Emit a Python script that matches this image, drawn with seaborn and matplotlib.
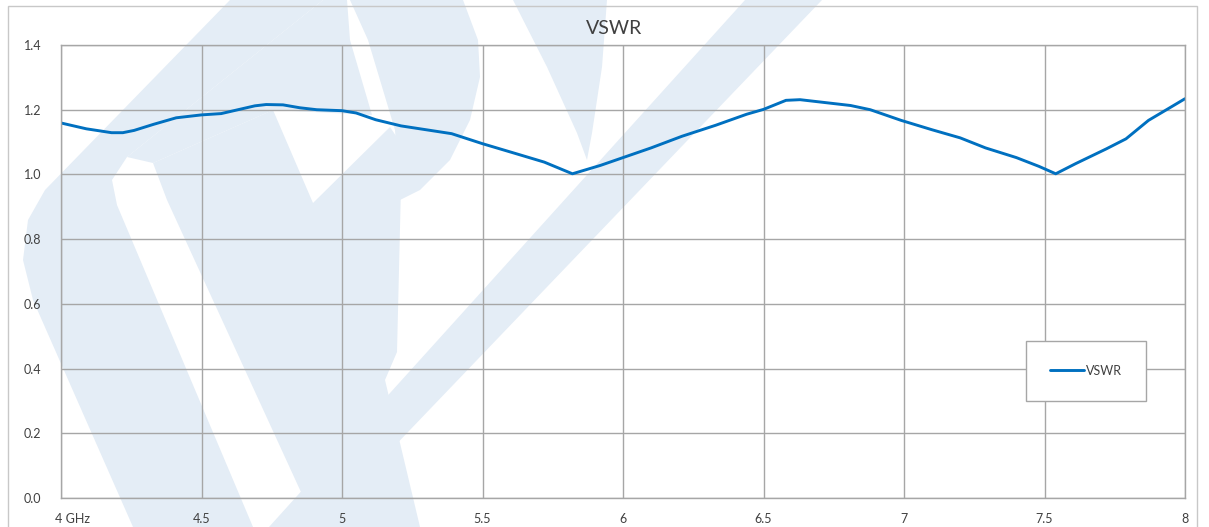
import numpy as np
import pandas as pd
import matplotlib
matplotlib.use("Agg")
import matplotlib.pyplot as plt
import matplotlib.transforms as mtransforms
from matplotlib.patches import Polygon, Rectangle
import seaborn as sns

freq_ghz = [4.00, 4.09, 4.18, 4.22, 4.26, 4.33, 4.41, 4.50, 4.57, 4.61,
            4.69, 4.73, 4.79, 4.85, 4.91, 4.97, 5.00, 5.05, 5.12, 5.21,
            5.33, 5.39, 5.50, 5.62, 5.72, 5.82, 5.92, 6.00, 6.10, 6.21,
            6.33, 6.44, 6.50, 6.58, 6.63, 6.70, 6.81, 6.88, 6.94, 6.99,
            7.10, 7.20, 7.29, 7.40, 7.48, 7.54, 7.61, 7.72, 7.79, 7.87,
            7.94, 8.00]
vswr = [1.159, 1.141, 1.129, 1.129, 1.136, 1.155, 1.175, 1.184, 1.188, 1.196,
        1.212, 1.216, 1.215, 1.206, 1.200, 1.198, 1.197, 1.190, 1.169, 1.150,
        1.134, 1.126, 1.095, 1.064, 1.038, 1.002, 1.028, 1.052, 1.082, 1.118,
        1.152, 1.186, 1.201, 1.229, 1.231, 1.224, 1.213, 1.200, 1.182, 1.167,
        1.138, 1.113, 1.082, 1.052, 1.025, 1.002, 1.033, 1.079, 1.110, 1.167,
        1.203, 1.234]

x_ticks = [4, 4.5, 5, 5.5, 6, 6.5, 7, 7.5, 8]
x_labels = ["4 GHz", "4.5", "5", "5.5", "6", "6.5", "7", "7.5", "8"]
y_ticks = [0.0, 0.2, 0.4, 0.6, 0.8, 1.0, 1.2, 1.4]

df = pd.DataFrame({"freq": freq_ghz, "VSWR": vswr})

sns.set_style("white")
plt.rcParams["font.family"] = ["Lato", "DejaVu Sans"]

W, H = 1209, 527
fig = plt.figure(figsize=(W / 100, H / 100), dpi=100)
fig.patch.set_facecolor("white")


def px(points):
    # figure pixel coords (origin top-left) -> figure fraction
    return [(x / W, 1 - y / H) for x, y in points]


# faint logo watermark behind the chart (rough outline)
wm_color = "#e4edf6"
shapes = [
    # long thin diagonal stripe
    [(745, 0), (822, 0), (317, 527), (269, 527)],
    # outer rounded chevron on the left
    [(230, 0), (323, 0), (127, 157), (112, 180), (117, 205), (253, 527),
     (133, 527), (33, 300), (23, 260), (28, 220), (45, 190)],
    # fill between the chevron and the bowl
    [(323, 0), (347, 0), (350, 40), (372, 115), (273, 110), (153, 163), (127, 157)],
    # middle band
    [(153, 163), (273, 110), (313, 203), (390, 127), (402, 145), (397, 352),
     (385, 380), (420, 527), (317, 527), (167, 200)],
    # bowl at the top
    [(350, 0), (463, 0), (478, 40), (480, 77), (470, 120), (450, 160),
     (420, 190), (400, 200), (395, 130), (368, 40)],
    # narrow tapered band at the top
    [(513, 0), (607, 0), (602, 67), (592, 133), (587, 160), (577, 133), (547, 67)],
]
for s in shapes:
    fig.patches.append(Polygon(px(s), closed=True, transform=fig.transFigure,
                               facecolor=wm_color, edgecolor="none", zorder=-1))

# outer chart border
fig.patches.append(Rectangle((8 / W, -0.05), (1197 - 8) / W, 1 - 6 / H + 0.05,
                             transform=fig.transFigure, fill=False,
                             edgecolor="#c8c8c8", lw=1, zorder=1))

ax = fig.add_axes([61 / W, 1 - 498 / H, (1185 - 61) / W, (498 - 45) / H])
ax.set_facecolor("none")

sns.lineplot(data=df, x="freq", y="VSWR", ax=ax, color="#0070c0",
             linewidth=2.1, label="VSWR")

ax.set_xlim(4, 8)
ax.set_ylim(0, 1.4)
ax.set_xticks(x_ticks)
ax.set_xticklabels(x_labels)
ax.set_yticks(y_ticks)
ax.set_yticklabels([f"{v:.1f}" for v in y_ticks])
ax.set_xlabel("")
ax.set_ylabel("")

grid_color = "#a6a6a6"
ax.grid(True, color=grid_color, linewidth=1)
ax.set_axisbelow(True)
for sp in ax.spines.values():
    sp.set_color(grid_color)
    sp.set_linewidth(1)
ax.tick_params(axis="both", length=0, labelsize=9, colors="#404040")
ax.tick_params(axis="x", pad=11)
ax.tick_params(axis="y", pad=14)

# first x label sits a bit right of its gridline
first = ax.get_xticklabels()[0]
first.set_horizontalalignment("left")
first.set_transform(first.get_transform() +
                    mtransforms.ScaledTranslation(-6 / 100, 0, fig.dpi_scale_trans))

fig.text(614 / W, 1 - 29 / H, "VSWR", ha="center", va="center",
         fontsize=14, color="#404040")

leg = ax.legend(loc="upper left", bbox_to_anchor=(1026 / W, 1 - 341 / H),
                bbox_transform=fig.transFigure, borderaxespad=0,
                frameon=True, fancybox=False, framealpha=1, fontsize=9,
                handlelength=2.7, handletextpad=0.2, borderpad=1.9)
leg.get_frame().set_edgecolor(grid_color)
leg.get_frame().set_linewidth(1)
for t in leg.get_texts():
    t.set_color("#404040")

fig.savefig("out.png", dpi=100)
